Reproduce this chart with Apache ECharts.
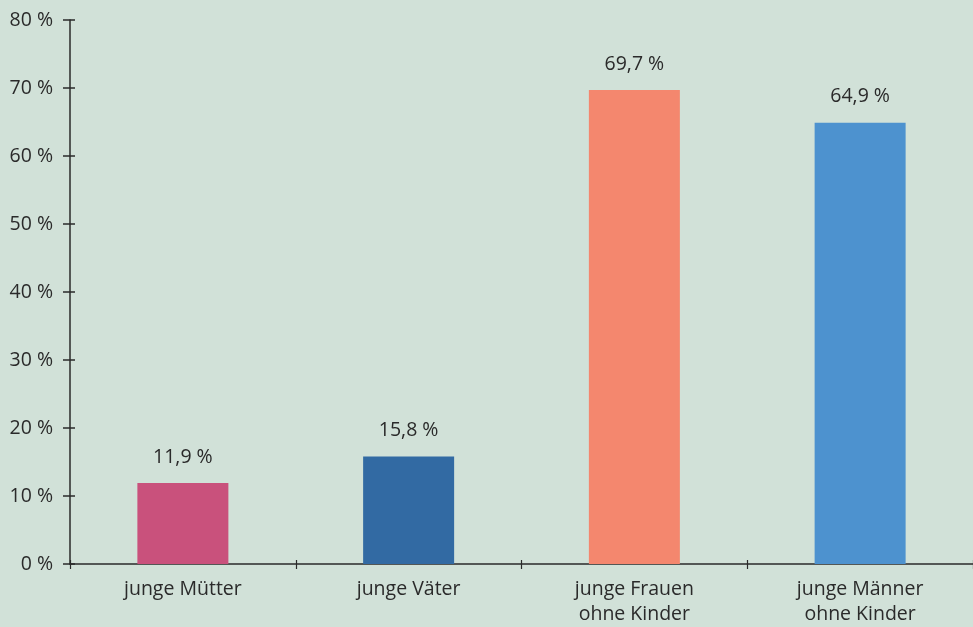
<!DOCTYPE html>
<html>
<head>
<meta charset="utf-8">
<script src="https://cdn.jsdelivr.net/npm/echarts@6/dist/echarts.min.js"></script>
<style>
html,body{margin:0;padding:0;background:#d1e1d8;}
#c{width:973px;height:627px;}
</style>
</head>
<body>
<div id="c"></div>
<script>
const categories = ['junge Mütter', 'junge Väter', 'junge Frauen\nohne Kinder', 'junge Männer\nohne Kinder'];
const values = [11.9, 15.8, 69.7, 64.9];
const barColors = ['#c9517c', '#326aa3', '#f4876e', '#4d92cf'];
const yTicks = [0, 10, 20, 30, 40, 50, 60, 70, 80];

const FONT = '"Open Sans", "Noto Sans", sans-serif';
const TXT = '#2a2a2a';
const LINE = '#2a2a2a';

const chart = echarts.init(document.getElementById('c'), null, {renderer: 'canvas'});
const fmtPct = v => String(v).replace('.', ',') + '\u00a0%';

chart.setOption({
  backgroundColor: '#d1e1d8',
  animation: false,
  grid: {left: 70, right: -4, top: 20, bottom: 63, containLabel: false},
  xAxis: [{
    type: 'category',
    data: categories,
    position: 'bottom',
    axisLine: {show: true, lineStyle: {color: LINE, width: 1.5}},
    axisTick: {show: true, length: 5, lineStyle: {color: LINE, width: 1.2}},
    axisLabel: {color: TXT, fontFamily: FONT, fontSize: 19.5, margin: 13, lineHeight: 25}
  }, {
    type: 'category',
    data: categories,
    position: 'bottom',
    axisLine: {show: false},
    axisTick: {show: true, inside: true, length: 4, lineStyle: {color: LINE, width: 1.2}},
    axisLabel: {show: false}
  }],
  yAxis: [{
    type: 'value',
    min: yTicks[0],
    max: yTicks[yTicks.length - 1],
    interval: 10,
    axisLine: {show: true, lineStyle: {color: LINE, width: 1.5}},
    axisTick: {show: true, length: 7, lineStyle: {color: LINE, width: 1.5}},
    splitLine: {show: false},
    axisLabel: {color: TXT, fontFamily: FONT, fontSize: 19.5, margin: 17, formatter: v => v + '\u00a0%'}
  }, {
    type: 'value',
    min: yTicks[0],
    max: yTicks[yTicks.length - 1],
    interval: 10,
    position: 'left',
    axisLine: {show: false},
    axisTick: {show: true, inside: true, length: 5, lineStyle: {color: LINE, width: 1.5}},
    splitLine: {show: false},
    axisLabel: {show: false}
  }],
  series: [{
    type: 'bar',
    xAxisIndex: 0,
    yAxisIndex: 0,
    barWidth: 91,
    data: values.map((v, i) => ({value: v, itemStyle: {color: barColors[i]}})),
    label: {
      show: true,
      position: 'top',
      distance: 16,
      color: TXT,
      fontFamily: FONT,
      fontSize: 19.5,
      formatter: p => fmtPct(p.value)
    }
  }]
});
</script>
</body>
</html>
